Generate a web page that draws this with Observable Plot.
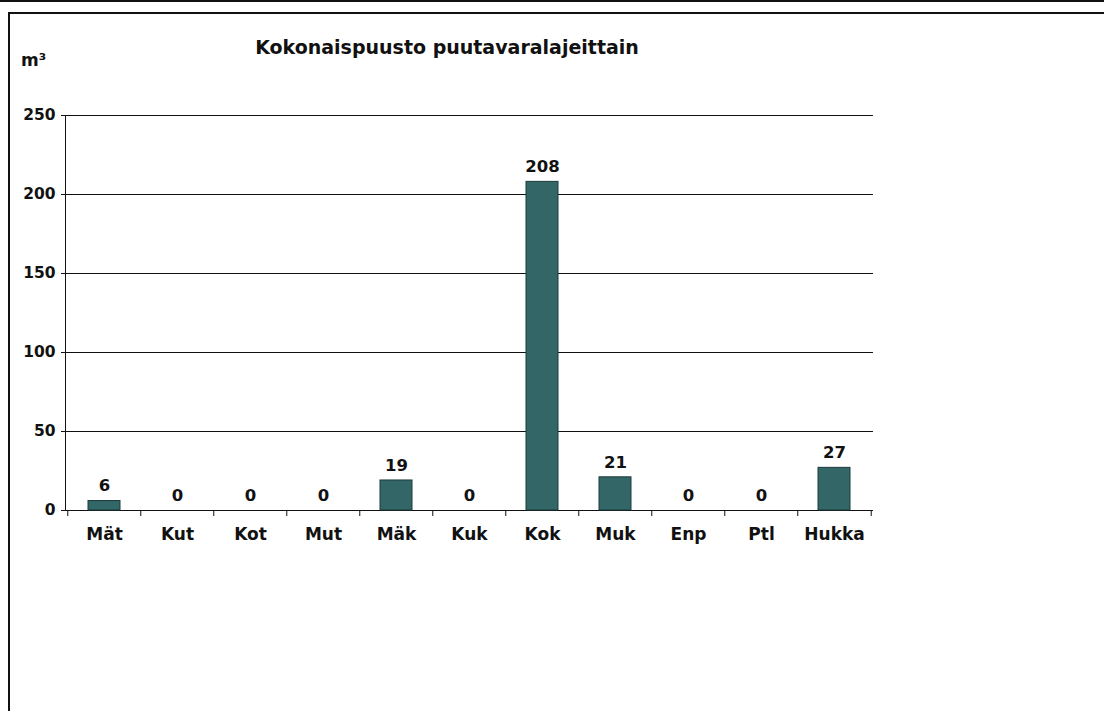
<!DOCTYPE html>
<html>
<head>
<meta charset="utf-8">
<script src="https://cdn.jsdelivr.net/npm/d3@7"></script>
<script src="https://cdn.jsdelivr.net/npm/@observablehq/plot@0.6"></script>
<style>
  html, body { margin: 0; padding: 0; background: #fff; }
  #wrap { position: relative; width: 1104px; height: 711px; overflow: hidden; font-family: "DejaVu Sans", Verdana, sans-serif; }
  #wrap svg { position: absolute; left: 0; top: 0; }
  .line { position: absolute; background: #111; }
  #title { position: absolute; left: 0; width: 894px; top: 36px; text-align: center; font-weight: bold; font-size: 19px; color: #111; line-height: 22px; }
  #unit { position: absolute; left: 21px; top: 50px; font-weight: bold; font-size: 17px; color: #111; line-height: 20px; }
</style>
</head>
<body>
<div id="wrap">
  <div class="line" style="left:0;top:0;width:1104px;height:2px"></div>
  <div class="line" style="left:8px;top:12px;width:1096px;height:2px"></div>
  <div class="line" style="left:8px;top:12px;width:2px;height:699px"></div>
  <div id="title">Kokonaispuusto puutavaralajeittain</div>
  <div id="unit">m³</div>
</div>
<script>
const categories = ["Mät", "Kut", "Kot", "Mut", "Mäk", "Kuk", "Kok", "Muk", "Enp", "Ptl", "Hukka"];
const values = [6, 0, 0, 0, 19, 0, 208, 21, 0, 0, 27];
const yTicks = [0, 50, 100, 150, 200, 250];

const data = categories.map((c, i) => ({cat: c, value: values[i]}));

const W = 1104, H = 711, mL = 65, mR = 231, mT = 115, mB = 201;
const step = (W - mL - mR) / categories.length;
const font = "DejaVu Sans, Verdana, sans-serif";

const chart = Plot.plot({
  width: W,
  height: H,
  marginLeft: mL,
  marginRight: mR,
  marginTop: mT,
  marginBottom: mB,
  style: {fontFamily: font, fontSize: "15px", fontWeight: "bold", color: "#111", background: "transparent", overflow: "visible"},
  x: {domain: categories, paddingInner: 0.56, paddingOuter: 0.28, label: null},
  y: {domain: [0, 250], label: null},
  marks: [
    Plot.ruleY(yTicks, {stroke: "#111", strokeWidth: 1}),
    Plot.barY(data, {x: "cat", y: "value", fill: "#336666", stroke: "#1c3a3a", strokeWidth: 1}),
    Plot.text(data, {x: "cat", y: "value", text: d => String(d.value), dy: -15, fontSize: 16.5, fontWeight: "bold", fill: "#111"}),
    Plot.frame({anchor: "left", stroke: "#111"}),
    Plot.axisY({ticks: yTicks, tickSize: 4, tickPadding: 6, fontSize: 15.5, fontWeight: "bold", stroke: "#111", fill: "#111", label: null}),
    Plot.axisX({tickSize: 0, tickPadding: 17, fontSize: 17, fontWeight: "bold", fill: "#111", label: null}),
    Plot.axisX({tickSize: 6, tickFormat: () => "", dx: -step / 2, stroke: "#111", label: null}),
    Plot.axisX({ticks: [categories[categories.length - 1]], tickSize: 6, tickFormat: () => "", dx: step / 2, stroke: "#111", label: null})
  ]
});
document.getElementById("wrap").prepend(chart);
</script>
</body>
</html>
